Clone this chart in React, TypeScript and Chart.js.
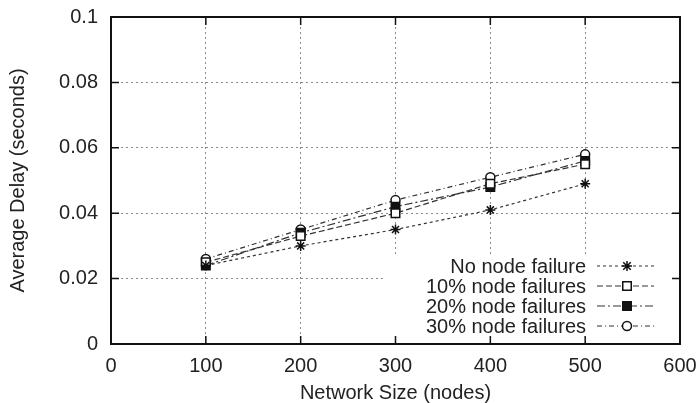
import React, { useEffect, useRef } from "react";
import { Chart, registerables } from "chart.js";

Chart.register(...registerables);

const networkSizes = [100, 200, 300, 400, 500];
const noFailure = [0.024, 0.030, 0.035, 0.041, 0.049];
const failures10 = [0.025, 0.033, 0.040, 0.049, 0.055];
const failures20 = [0.024, 0.034, 0.042, 0.048, 0.056];
const failures30 = [0.026, 0.035, 0.044, 0.051, 0.058];
const seriesLabels = ["No node failure", "10% node failures", "20% node failures", "30% node failures"];
const xTicks = [0, 100, 200, 300, 400, 500, 600];
const yTicks = [0, 0.02, 0.04, 0.06, 0.08, 0.1];

const FONT = "'Liberation Sans', Arial, Helvetica, sans-serif";
const TEXT = "#222";
const FS = 20;

function drawMarker(ctx: any, style: string, x: number, y: number, r: number, fill: string, stroke: string, bw: number) {
  ctx.save();
  ctx.lineWidth = bw;
  ctx.strokeStyle = stroke;
  ctx.fillStyle = fill;
  ctx.setLineDash([]);
  ctx.beginPath();
  if (style === "rect") {
    const s = r * Math.SQRT2;
    ctx.rect(x - s / 2, y - s / 2, s, s);
    ctx.fill();
    ctx.stroke();
  } else if (style === "circle") {
    ctx.arc(x, y, r, 0, Math.PI * 2);
    ctx.fill();
    ctx.stroke();
  } else {
    const d = r * 0.75;
    ctx.moveTo(x - r, y); ctx.lineTo(x + r, y);
    ctx.moveTo(x, y - r); ctx.lineTo(x, y + r);
    ctx.moveTo(x - d, y - d); ctx.lineTo(x + d, y + d);
    ctx.moveTo(x - d, y + d); ctx.lineTo(x + d, y - d);
    ctx.stroke();
  }
  ctx.restore();
}

const framePlugin = {
  id: "gnuplotFrame",
  afterDatasetsDraw(chart: any) {
    const { ctx, chartArea } = chart;
    const ds = chart.data.datasets;
    const textRight = chartArea.right - 94;
    const row0 = chartArea.bottom - 78;
    ctx.save();
    ctx.font = `${FS}px ${FONT}`;
    const boxL = textRight - 202;
    const boxR = textRight + 87;
    const boxT = row0 - 11;
    const boxB = row0 + 3 * 20 + 11;
    ctx.fillStyle = "#fff";
    ctx.fillRect(boxL, boxT, boxR - boxL, boxB - boxT);
    ds.forEach((d: any, i: number) => {
      const y = row0 + i * 20;
      ctx.fillStyle = TEXT;
      ctx.textAlign = "right";
      ctx.textBaseline = "middle";
      ctx.fillText(d.label, textRight, y + 1);
      ctx.strokeStyle = d.borderColor;
      ctx.lineWidth = d.borderWidth;
      ctx.setLineDash(d.borderDash);
      ctx.beginPath();
      ctx.moveTo(textRight + 11, y);
      ctx.lineTo(textRight + 68, y);
      ctx.stroke();
      ctx.setLineDash([]);
      drawMarker(ctx, d.pointStyle, textRight + 41, y, d.pointRadius, d.pointBackgroundColor, d.pointBorderColor, d.pointBorderWidth);
    });
    ctx.restore();
  },
  afterDraw(chart: any) {
    const { ctx, chartArea, scales } = chart;
    const { left, right, top, bottom } = chartArea;
    ctx.save();
    ctx.strokeStyle = "#111";
    ctx.lineWidth = 1.5;
    ctx.setLineDash([]);
    const tl = 8;
    ctx.beginPath();
    xTicks.forEach((v) => {
      const x = scales.x.getPixelForValue(v);
      ctx.moveTo(x, bottom); ctx.lineTo(x, bottom - tl);
      ctx.moveTo(x, top); ctx.lineTo(x, top + tl);
    });
    yTicks.forEach((v) => {
      const y = scales.y.getPixelForValue(v);
      ctx.moveTo(left, y); ctx.lineTo(left + tl, y);
      ctx.moveTo(right, y); ctx.lineTo(right - tl, y);
    });
    ctx.stroke();
    ctx.lineWidth = 2;
    ctx.strokeRect(left, top, right - left, bottom - top);
    ctx.restore();
  },
};

function makeSeries(label: string, values: number[], style: string, dash: number[], fill: string, radius: number) {
  return {
    label,
    data: networkSizes.map((x, i) => ({ x, y: values[i] })),
    borderColor: "#333",
    borderWidth: 1.2,
    borderDash: dash,
    pointStyle: style,
    pointRadius: radius,
    pointBorderWidth: 1.5,
    pointBorderColor: "#111",
    pointBackgroundColor: fill,
    fill: false,
    tension: 0,
  };
}

export default function App() {
  const ref = useRef<HTMLCanvasElement>(null);
  useEffect(() => {
    if (!ref.current) return;
    const chart = new Chart(ref.current, {
      type: "line",
      data: {
        datasets: [
          makeSeries(seriesLabels[0], noFailure, "star", [3, 3], "#111", 5),
          makeSeries(seriesLabels[1], failures10, "rect", [6, 3], "#fff", 6),
          makeSeries(seriesLabels[2], failures20, "rect", [8, 3, 2, 3], "#111", 6),
          makeSeries(seriesLabels[3], failures30, "circle", [5, 3, 1, 3], "#fff", 4.5),
        ] as any,
      },
      options: {
        responsive: false,
        animation: false,
        layout: { padding: { top: 17, right: 18, left: 0, bottom: 0 } },
        plugins: { legend: { display: false }, tooltip: { enabled: false } },
        scales: {
          x: {
            type: "linear",
            min: 0,
            max: 600,
            afterFit: (s: any) => { s.height = 59; s.paddingLeft = 0; s.paddingRight = 0; },
            afterBuildTicks: (s: any) => { s.ticks = xTicks.map((v) => ({ value: v })); },
            grid: { color: "#8a8a8a", lineWidth: 1, drawTicks: false },
            border: { display: false, dash: [2, 3] },
            ticks: { padding: 10, color: TEXT, font: { family: FONT, size: FS }, maxRotation: 0 },
            title: { display: true, text: "Network Size (nodes)", color: TEXT, font: { family: FONT, size: FS, lineHeight: 1 }, padding: 0 },
          },
          y: {
            type: "linear",
            min: 0,
            max: 0.1,
            afterFit: (s: any) => { s.width = 111; s.paddingTop = 0; s.paddingBottom = 0; },
            afterBuildTicks: (s: any) => { s.ticks = yTicks.map((v) => ({ value: v })); },
            grid: { color: "#8a8a8a", lineWidth: 1, drawTicks: false },
            border: { display: false, dash: [2, 3] },
            ticks: {
              padding: 13,
              color: TEXT,
              font: { family: FONT, size: FS },
              callback: (v: any) => String(Math.round(Number(v) * 100) / 100),
            },
            title: { display: true, text: "Average Delay (seconds)", color: TEXT, font: { family: FONT, size: FS }, padding: { top: 6, bottom: 0 } },
          },
        },
      },
      plugins: [framePlugin],
    });
    return () => chart.destroy();
  }, []);
  return (
    <div style={{ position: "fixed", left: 0, top: 0, width: 698, height: 403, background: "#fff" }}>
      <canvas ref={ref} width={698} height={403} />
    </div>
  );
}
